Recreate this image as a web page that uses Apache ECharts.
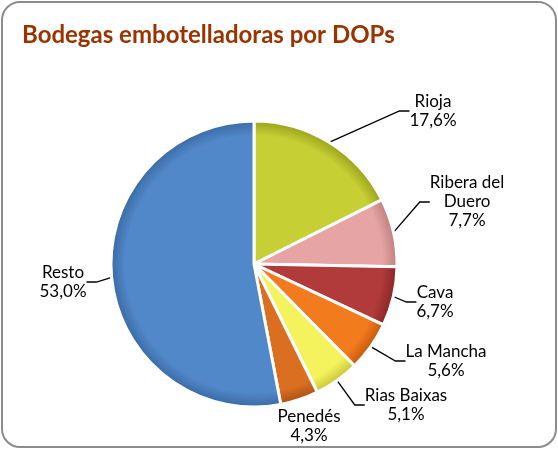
<!DOCTYPE html>
<html>
<head>
<meta charset="utf-8">
<script src="https://cdn.jsdelivr.net/npm/echarts@6/dist/echarts.min.js"></script>
<style>
html,body{margin:0;padding:0;background:#fff;}
#c{width:558px;height:450px;}
</style>
</head>
<body>
<div id="c"></div>
<script>
const titleText = 'Bodegas embotelladoras por DOPs';
const categories = ['Rioja', 'Ribera del\nDuero', 'Cava', 'La Mancha', 'Rias Baixas', 'Penedés', 'Resto'];
const shares = [17.6, 7.7, 6.7, 5.6, 5.1, 4.3, 53.0];
const colors = ['#c6cf33', '#e6a4a4', '#b13a3a', '#f27b1d', '#f4f35e', '#da6f22', '#5188c9'];
const darkColors = ['#9aa21c', '#c07f7f', '#8a2626', '#c45a0c', '#c9c63a', '#ad5213', '#3a6aa5'];

const CX = 254, CY = 264, R = 143;
// label anchor positions (centre of each label block)
const labelPos = [[433,111],[467,202],[435,302],[446,361],[406,405],[309,426],[63,282]];

function fill(i){
  return {
    type:'radial', x:CX, y:CY, r:R, global:true,
    colorStops:[{offset:0,color:colors[i]},{offset:0.9,color:colors[i]},{offset:1,color:darkColors[i]}]
  };
}

const data = categories.map((name,i)=>({
  name:name, value:shares[i],
  itemStyle:{color:fill(i)},
  labelLine:{show: i!==5}
}));

const chart = echarts.init(document.getElementById('c'), null, {renderer:'canvas'});
chart.setOption({
  animation:false,
  backgroundColor:'#fff',
  title:{
    text:titleText, left:17, top:18,
    textStyle:{fontFamily:'Lato', fontWeight:'bold', fontSize:24, color:'#993300'}
  },
  graphic:[{
    type:'rect', shape:{x:2, y:2, width:554, height:445, r:18},
    style:{fill:'none', stroke:'#8c8c8c', lineWidth:2}, silent:true, z:-1
  }],
  series:[{
    type:'pie',
    center:[CX, CY], radius:R,
    startAngle:90, clockwise:true,
    avoidLabelOverlap:false,
    data:data,
    itemStyle:{borderColor:'#fff', borderWidth:3},
    label:{
      show:true, position:'outside',
      fontFamily:'Lato', fontSize:17, color:'#000', lineHeight:19, align:'center',
      formatter:p=>p.name+'\n'+p.value.toFixed(1).replace('.',',')+'%'
    },
    labelLine:{show:true, length:10, length2:10, lineStyle:{color:'#000', width:1.3}},
    labelLayout:function(p){
      const pos = labelPos[p.dataIndex];
      return {x:pos[0], y:pos[1], align:'center', verticalAlign:'middle'};
    },
    emphasis:{disabled:true}
  }]
});
</script>
</body>
</html>
